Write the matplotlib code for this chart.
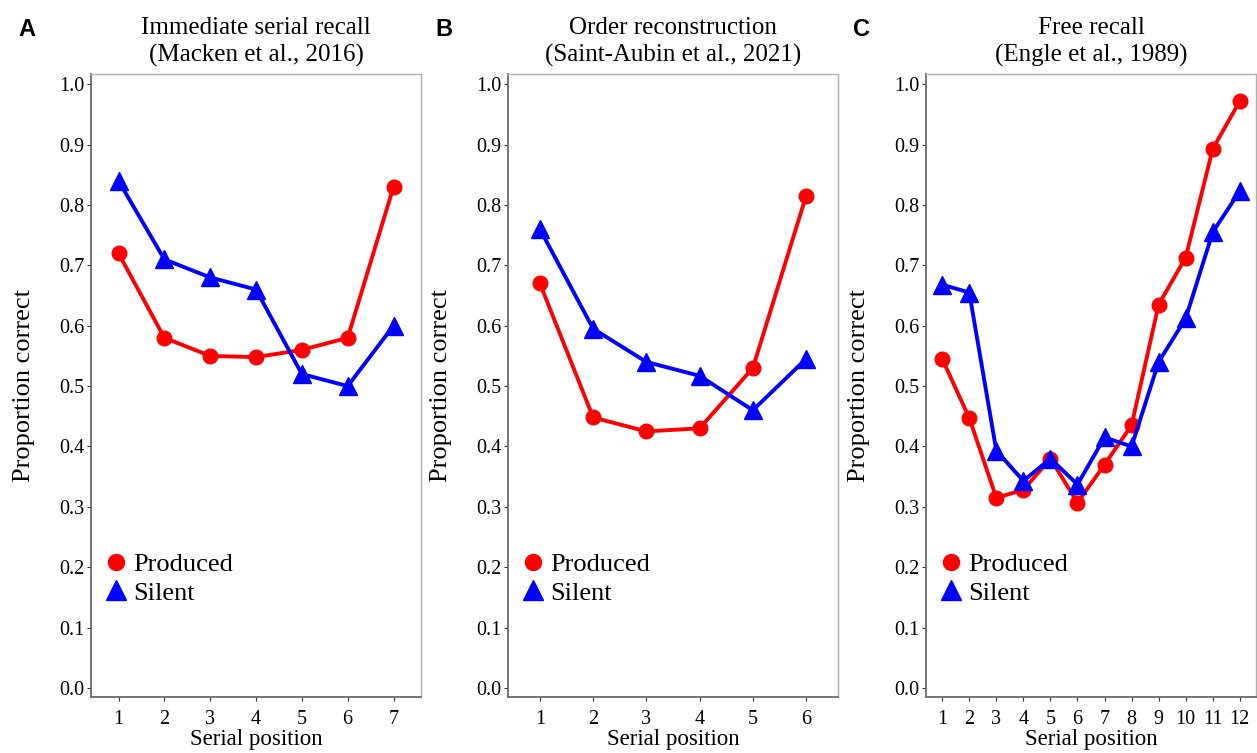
import matplotlib
matplotlib.use("Agg")
import matplotlib.pyplot as plt
import numpy as np

# ---- data ----
titles = ["Immediate serial recall\n(Macken et al., 2016)",
          "Order reconstruction\n(Saint-Aubin et al., 2021)",
          "Free recall\n(Engle et al., 1989)"]
panel_letters = ["A", "B", "C"]

produced_A = [0.72, 0.58, 0.55, 0.548, 0.56, 0.58, 0.83]
silent_A = [0.84, 0.71, 0.68, 0.66, 0.52, 0.50, 0.60]

produced_B = [0.67, 0.448, 0.425, 0.43, 0.53, 0.815]
silent_B = [0.76, 0.595, 0.54, 0.517, 0.46, 0.545]

produced_C = [0.545, 0.447, 0.315, 0.328, 0.38, 0.307, 0.37, 0.435, 0.635, 0.713, 0.893, 0.972]
silent_C = [0.668, 0.655, 0.393, 0.343, 0.38, 0.337, 0.415, 0.40, 0.54, 0.612, 0.755, 0.823]

series_labels = ["Produced", "Silent"]
y_ticks = [0.0, 0.1, 0.2, 0.3, 0.4, 0.5, 0.6, 0.7, 0.8, 0.9, 1.0]
xlabel = "Serial position"
ylabel = "Proportion correct"

panels = [(produced_A, silent_A), (produced_B, silent_B), (produced_C, silent_C)]

W, H = 1257, 753
fig = plt.figure(figsize=(W / 100, H / 100), dpi=100)
serif = "Liberation Serif"

lefts = [91, 508, 926]
ax_w = 330
ax_bottom = 56
ax_h = 623

for i, (prod, sil) in enumerate(panels):
    ax = fig.add_axes([lefts[i] / W, ax_bottom / H, ax_w / W, ax_h / H])
    n = len(prod)
    x = np.arange(1, n + 1)
    ax.plot(x, prod, color="#ff0000", lw=2.8, marker="o", ms=10.5,
            label=series_labels[0], zorder=3)
    ax.plot(x, sil, color="#0000ff", lw=2.8, marker="^", ms=12.5,
            label=series_labels[1], zorder=3)
    ax.set_xlim(0.4, n + 0.6)
    ax.set_ylim(-0.015, 1.017)
    ax.set_xticks(x)
    ax.set_xticklabels([str(v) for v in x], fontfamily=serif, fontsize=14.5)
    ax.set_yticks(y_ticks)
    ax.set_yticklabels(["%.1f" % v for v in y_ticks], fontfamily=serif, fontsize=14.5)
    ax.tick_params(axis="both", direction="out", length=3, width=0.8,
                   color="#333333", pad=2)
    ax.tick_params(axis="x", pad=6)
    for s in ["left", "bottom"]:
        ax.spines[s].set_color("#6a6a6a")
        ax.spines[s].set_linewidth(1.3)
    for s in ["top", "right"]:
        ax.spines[s].set_color("#b0b0b0")
        ax.spines[s].set_linewidth(1.0)
    ax.set_xlabel(xlabel, fontfamily=serif, fontsize=16.5, labelpad=0)
    ax.set_ylabel(ylabel, fontfamily=serif, fontsize=19, labelpad=17)
    ax.set_title(titles[i], fontfamily=serif, fontsize=18, pad=9, linespacing=1.25)
    leg = ax.legend(loc="upper left", bbox_to_anchor=(0.045, 0.232), frameon=False,
                    handlelength=0.8, handletextpad=0.25, labelspacing=0.2,
                    borderpad=0, borderaxespad=0, markerscale=1.1,
                    prop={"family": serif, "size": 19})
    for h in leg.legend_handles:
        h.set_linestyle("none")
    fig.text((lefts[i] - 73) / W, 1 - 29 / H, panel_letters[i], fontfamily="Liberation Sans",
             fontweight="bold", fontsize=17, ha="left", va="center")

fig.savefig("out.png", dpi=100)
